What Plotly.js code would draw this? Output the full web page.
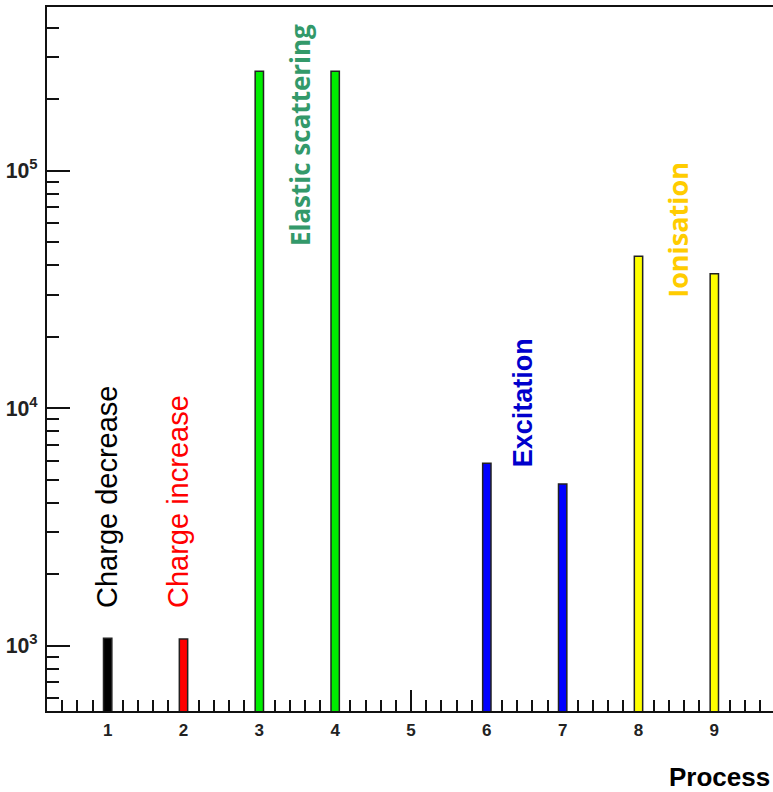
<!DOCTYPE html>
<html>
<head>
<meta charset="utf-8">
<script src="https://cdn.plot.ly/plotly-3.0.1.min.js"></script>
<style>
html, body { margin: 0; padding: 0; overflow: hidden; background: #fff; }
#chart { width: 800px; height: 792px; }
</style>
</head>
<body>
<div id="chart"></div>
<script>
// Data
const processNames = ["Charge decrease", "Charge increase", "Elastic scattering", "Excitation", "Ionisation"];
const chargeDecreaseX = [1];
const chargeDecreaseY = [1075];
const chargeIncreaseX = [2];
const chargeIncreaseY = [1067];
const elasticX = [3, 4];
const elasticY = [262000, 262000];
const excitationX = [6, 7];
const excitationY = [5860, 4790];
const ionisationX = [8, 9];
const ionisationY = [43600, 36800];
const xTickVals = [1, 2, 3, 4, 5, 6, 7, 8, 9];
const xTickText = ["1", "2", "3", "4", "5", "6", "7", "8", "9"];

const barColors = ["#000000", "#ff0000", "#00ee00", "#0000ff", "#ffff00"];
const labelColors = ["#000000", "#ff0000", "#33996a", "#0000cc", "#ffcc00"];

const xs = [chargeDecreaseX, chargeIncreaseX, elasticX, excitationX, ionisationX];
const ys = [chargeDecreaseY, chargeIncreaseY, elasticY, excitationY, ionisationY];

const traces = xs.map((x, i) => ({
  type: "bar",
  x: x,
  y: ys[i],
  name: processNames[i],
  width: 0.11,
  marker: { color: barColors[i], line: { color: "#222222", width: 1.5 } },
  hoverinfo: "x+y"
}));

// label positions (x in data units, y in log10 units)
const labelX = [0.99, 1.92, 3.54, 6.47, 8.52];
const labelY = [3.15, 3.15, 4.675, 3.743, 4.456];
const labelFonts = [
  { family: "Liberation Sans, Arial, sans-serif", size: 29, weight: 400 },
  { family: "Liberation Sans, Arial, sans-serif", size: 29, weight: 400 },
  { family: "Open Sans, sans-serif", size: 26, weight: 700 },
  { family: "Liberation Sans, Arial, sans-serif", size: 27, weight: 700 },
  { family: "Open Sans, sans-serif", size: 27, weight: 700 }
];

const annotations = processNames.map((t, i) => ({
  text: t,
  x: labelX[i], y: labelY[i],
  xref: "x", yref: "y",
  textangle: -90,
  showarrow: false,
  xanchor: "center", yanchor: "bottom",
  font: Object.assign({ color: labelColors[i] }, labelFonts[i])
}));

annotations.push({
  text: "<b>Process</b>",
  xref: "paper", yref: "paper",
  x: 1, y: 0, yshift: -66, xshift: -4,
  xanchor: "right", yanchor: "middle",
  borderpad: 0,
  showarrow: false,
  font: { family: "Liberation Sans, Arial, sans-serif", size: 26, color: "#000" }
});

const layout = {
  width: 800, height: 792,
  margin: { l: 47, r: 25, t: 7, b: 81 },
  paper_bgcolor: "#fff", plot_bgcolor: "#fff",
  showlegend: false,
  barmode: "overlay",
  font: { family: "Liberation Sans, Arial, sans-serif", color: "#111" },
  xaxis: {
    range: [0.2, 9.8],
    tickmode: "array", tickvals: xTickVals, ticktext: xTickText,
    ticks: "inside", ticklen: 21, tickwidth: 2, tickcolor: "#111",
    minor: { dtick: 0.2, tick0: 0, ticks: "inside", ticklen: 11, tickwidth: 2, tickcolor: "#111" },
    showline: true, linecolor: "#111", linewidth: 2, mirror: true,
    showgrid: false, zeroline: false,
    layer: "below traces",
    tickfont: { size: 17, weight: 700, color: "#222" },
    ticklabelstandoff: 3
  },
  yaxis: {
    type: "log",
    range: [2.725, 5.689],
    dtick: 1,
    exponentformat: "power",
    ticks: "inside", ticklen: 23, tickwidth: 2, tickcolor: "#111",
    minor: { dtick: "D1", ticks: "inside", ticklen: 12, tickwidth: 2, tickcolor: "#111" },
    showline: true, linecolor: "#111", linewidth: 2, mirror: true,
    showgrid: false, zeroline: false,
    tickfont: { size: 17, weight: 700, color: "#222" },
    ticklabelstandoff: 4
  },
  annotations: annotations
};

Plotly.newPlot("chart", traces, layout, { displayModeBar: false, staticPlot: true });
</script>
</body>
</html>
